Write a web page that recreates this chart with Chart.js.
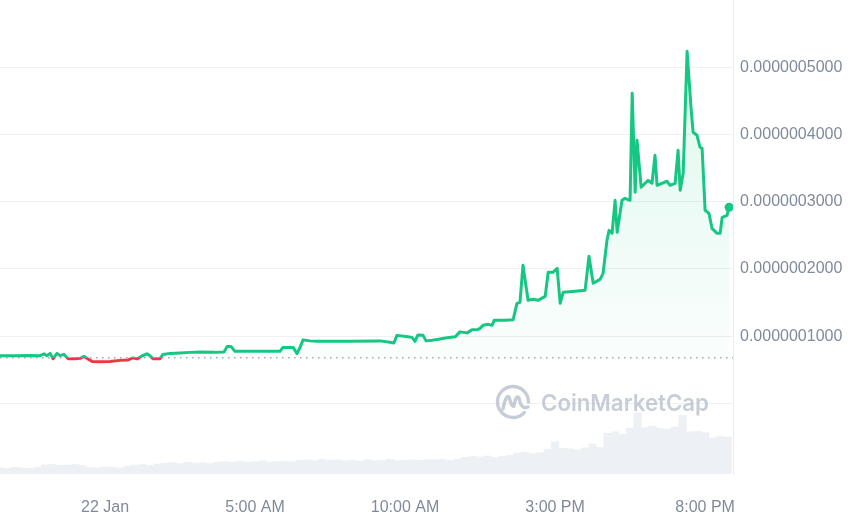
<!DOCTYPE html>
<html>
<head>
<meta charset="utf-8">
<script src="https://cdn.jsdelivr.net/npm/chart.js@4.4.1/dist/chart.umd.min.js"></script>
<style>
  html, body { margin: 0; padding: 0; background: #ffffff; }
  #wrap { width: 860px; height: 532px; position: relative; }
</style>
</head>
<body>
<div id="wrap"><canvas id="c"></canvas></div>
<script>
// ---- Data (hours relative to 00:00, 22 Jan) ----
const priceHours = [
  -3.50,-3.00,-2.50,-2.17,-2.03,-1.93,-1.83,-1.73,-1.60,-1.50,-1.37,-1.23,-1.00,-0.83,-0.70,-0.57,-0.43,-0.17,
  0.17,0.50,0.77,0.93,1.07,1.23,1.40,1.50,1.60,1.83,1.93,2.17,2.50,2.83,3.17,3.67,3.97,4.07,4.20,4.33,4.83,
  5.33,5.83,5.93,6.27,6.40,6.50,6.60,6.83,7.07,7.50,8.17,9.17,9.50,9.63,9.73,10.10,10.23,10.33,10.43,10.60,
  10.70,10.90,11.07,11.40,11.67,11.83,12.07,12.23,12.43,12.50,12.60,12.77,12.90,12.97,13.33,13.60,13.73,13.83,
  13.93,14.10,14.27,14.43,14.67,14.77,14.93,15.07,15.17,15.27,15.67,16.00,16.13,16.27,16.50,16.60,16.73,16.80,
  16.90,17.00,17.07,17.23,17.33,17.50,17.57,17.67,17.73,17.87,18.00,18.10,18.23,18.33,18.40,18.73,18.83,19.00,
  19.10,19.17,19.27,19.40,19.53,19.60,19.73,19.83,19.90,20.00,20.13,20.23,20.40,20.50,20.57,20.73,20.80
];
const prices = [
  7.10e-8,7.10e-8,7.14e-8,7.10e-8,7.37e-8,7.10e-8,7.44e-8,6.65e-8,7.44e-8,7.10e-8,7.29e-8,6.65e-8,6.65e-8,6.70e-8,7.00e-8,6.60e-8,6.25e-8,6.18e-8,
  6.25e-8,6.40e-8,6.47e-8,6.77e-8,6.62e-8,7.05e-8,7.37e-8,7.07e-8,6.65e-8,6.65e-8,7.29e-8,7.44e-8,7.51e-8,7.59e-8,7.66e-8,7.59e-8,7.66e-8,8.48e-8,8.48e-8,7.74e-8,7.74e-8,
  7.74e-8,7.74e-8,8.33e-8,8.33e-8,7.40e-8,8.33e-8,9.45e-8,9.30e-8,9.23e-8,9.23e-8,9.23e-8,9.30e-8,9.08e-8,9.00e-8,1.012e-7,9.90e-8,9.82e-8,9.23e-8,1.019e-7,1.012e-7,
  9.30e-8,9.38e-8,9.52e-8,9.75e-8,9.90e-8,1.064e-7,1.049e-7,1.094e-7,1.101e-7,1.116e-7,1.161e-7,1.176e-7,1.161e-7,1.235e-7,1.235e-7,1.243e-7,1.488e-7,1.503e-7,
  2.054e-7,1.533e-7,1.548e-7,1.533e-7,1.592e-7,1.949e-7,1.949e-7,2.009e-7,1.488e-7,1.652e-7,1.667e-7,1.682e-7,2.188e-7,1.786e-7,1.845e-7,1.935e-7,2.426e-7,2.574e-7,
  2.530e-7,3.021e-7,2.545e-7,3.021e-7,3.051e-7,3.021e-7,4.613e-7,3.140e-7,3.914e-7,3.214e-7,3.274e-7,3.318e-7,3.274e-7,3.690e-7,3.244e-7,3.304e-7,3.244e-7,3.274e-7,
  3.765e-7,3.170e-7,3.423e-7,5.238e-7,4.405e-7,4.033e-7,3.988e-7,3.810e-7,3.795e-7,2.872e-7,2.827e-7,2.604e-7,2.530e-7,2.530e-7,2.768e-7,2.798e-7,2.917e-7
];
const openPrice = 6.8e-8;              // dotted reference line (opening price)
const volStartHour = -3.5;             // first volume bar (15-minute bars)
const volStepHours = 0.25;
const volumes = [
  1.3,1.2,1.4,1.3,1.2,1.4, 1.9,2.0,1.8,1.9,2.0,1.8, 1.4,1.3,1.5,1.4,1.3,1.6, 1.9,2.0,1.8,2.1,
  2.3,2.4,2.2,2.5,2.3,2.4,2.2,2.5, 2.6,2.5,2.7,2.5,2.6,2.8,2.5,2.6,2.7,2.6, 2.9,3.0,2.8,3.1,2.9,3.0,
  2.8,2.9,2.7,3.0,2.8,2.9,3.1,2.8,2.9,3.0,2.9,3.0, 3.0,3.1,2.9,3.2, 3.5,3.7,3.6,3.8,3.5,3.7,3.9,
  4.4,4.6,4.3,4.5, 5.2,6.8,5.4,5.3,5.1,5.5,6.3,5.6, 8.6,8.9,8.4, 9.7,12.9,9.8,10.1,9.6, 9.5,9.9,12.4,
  8.9,9.0,8.7, 7.6,7.9,7.8
];
const tickHours = [0, 5, 10, 15, 20];
const tickLabels = ['22 Jan', '5:00 AM', '10:00 AM', '3:00 PM', '8:00 PM'];
const priceTicks = [0, 1e-7, 2e-7, 3e-7, 4e-7, 5e-7, 6e-7];

// ---- Build ----
const GREEN = '#16c784', RED = '#ea3943';
const pricePoints = priceHours.map((h, i) => ({ x: h, y: prices[i] }));
const volPoints = volumes.map((v, i) => ({ x: volStartHour + i * volStepHours, y: v }));
const xMin = -3.5, xMax = 20.93;

Chart.defaults.font.family = "'Liberation Sans', Arial, sans-serif";
Chart.defaults.color = '#808a9d';

function splitGradient(ctx, cTop, cBase, cBelow, cBottom) {
  const chart = ctx.chart;
  const area = chart.chartArea;
  if (!area) return cTop;
  const yb = chart.scales.y.getPixelForValue(openPrice);
  const g = chart.ctx.createLinearGradient(0, area.top, 0, area.bottom);
  let s = (yb - area.top) / (area.bottom - area.top);
  s = Math.min(Math.max(s, 0), 1);
  g.addColorStop(0, cTop);
  g.addColorStop(s, cBase);
  g.addColorStop(s, cBelow);
  g.addColorStop(1, cBottom);
  return g;
}

const watermark = {
  id: 'watermark',
  beforeDatasetsDraw(chart) {
    const { ctx, chartArea } = chart;
    const cx = chartArea.right - 220, cy = chartArea.bottom - 72;
    ctx.save();
    ctx.strokeStyle = 'rgba(178,186,199,0.72)';
    ctx.fillStyle = 'rgba(178,186,199,0.72)';
    ctx.lineWidth = 3.4;
    ctx.lineCap = 'round';
    ctx.lineJoin = 'round';
    ctx.beginPath();
    ctx.arc(cx, cy, 15.5, 0.75, Math.PI * 2);
    ctx.stroke();
    ctx.beginPath();
    ctx.moveTo(cx - 10, cy + 7);
    ctx.quadraticCurveTo(cx - 7, cy - 8, cx - 4, cy - 5);
    ctx.quadraticCurveTo(cx - 1, cy + 6, cx + 1, cy + 4);
    ctx.quadraticCurveTo(cx + 3, cy - 8, cx + 6, cy - 4);
    ctx.quadraticCurveTo(cx + 8, cy + 8, cx + 15, cy + 5);
    ctx.stroke();
    ctx.font = "600 23px Inter, 'Liberation Sans', sans-serif";
    ctx.textBaseline = 'alphabetic';
    ctx.textAlign = 'left';
    ctx.fillText('CoinMarketCap', cx + 28, cy + 9, 168);
    ctx.restore();
  }
};

new Chart(document.getElementById('c'), {
  type: 'line',
  data: {
    datasets: [
      {
        label: 'Price',
        data: pricePoints,
        yAxisID: 'y',
        order: 1,
        borderWidth: 3,
        tension: 0,
        borderJoinStyle: 'round',
        borderCapStyle: 'round',
        borderColor: (ctx) => splitGradient(ctx, GREEN, GREEN, RED, RED),
        backgroundColor: (ctx) => splitGradient(ctx, 'rgba(22,199,132,0.16)', 'rgba(22,199,132,0.02)', 'rgba(234,57,67,0.04)', 'rgba(234,57,67,0.0)'),
        fill: { target: { value: openPrice } },
        pointRadius: (ctx) => ctx.dataIndex === pricePoints.length - 1 ? 4.5 : 0,
        pointBackgroundColor: GREEN,
        pointBorderColor: GREEN,
        pointBorderWidth: 0,
        pointHoverRadius: 0
      },
      {
        label: 'Open',
        data: [{ x: xMin, y: openPrice }, { x: xMax, y: openPrice }],
        yAxisID: 'y',
        order: 2,
        borderColor: '#a1a7bb',
        borderWidth: 1.5,
        borderDash: [1.5, 4.5],
        pointRadius: 0,
        fill: false
      },
      {
        type: 'bar',
        label: 'Volume',
        data: volPoints,
        yAxisID: 'yv',
        order: 3,
        backgroundColor: '#edf0f4',
        borderWidth: 0,
        barPercentage: 1.0,
        categoryPercentage: 1.0
      }
    ]
  },
  options: {
    responsive: true,
    maintainAspectRatio: false,
    animation: false,
    layout: { autoPadding: false, padding: 0 },
    plugins: { legend: { display: false }, tooltip: { enabled: false } },
    scales: {
      x: {
        type: 'linear',
        min: xMin,
        max: xMax,
        offset: false,
        grid: { display: false, drawTicks: false },
        border: { display: false },
        afterBuildTicks: (scale) => { scale.ticks = tickHours.map(v => ({ value: v })); },
        afterFit: (scale) => { scale.height = 58; scale.paddingLeft = 0; scale.paddingRight = 0; },
        ticks: {
          autoSkip: false,
          maxRotation: 0,
          padding: 24,
          font: { size: 16 },
          color: '#808a9d',
          callback: (v) => tickLabels[tickHours.indexOf(v)]
        }
      },
      y: {
        type: 'linear',
        position: 'right',
        min: -1.05e-7,
        max: 6e-7,
        afterBuildTicks: (scale) => { scale.ticks = priceTicks.map(v => ({ value: v })); },
        afterFit: (scale) => { scale.width = 127; scale.paddingTop = 0; scale.paddingBottom = 0; },
        grid: {
          drawTicks: false,
          color: (c) => (c.tick && c.tick.value >= 6e-7) ? 'rgba(0,0,0,0)' : '#eef0f3',
          lineWidth: 1
        },
        border: { display: true, color: '#eceef2' },
        ticks: {
          padding: 7,
          font: { size: 16 },
          color: '#808a9d',
          callback: (v) => {
            if (v >= 6e-7) return null;
            if (v <= 0) return '';
            return v.toFixed(10);
          }
        }
      },
      yv: {
        type: 'linear',
        display: false,
        min: 0,
        max: 100
      }
    }
  },
  plugins: [watermark]
});
</script>
</body>
</html>
